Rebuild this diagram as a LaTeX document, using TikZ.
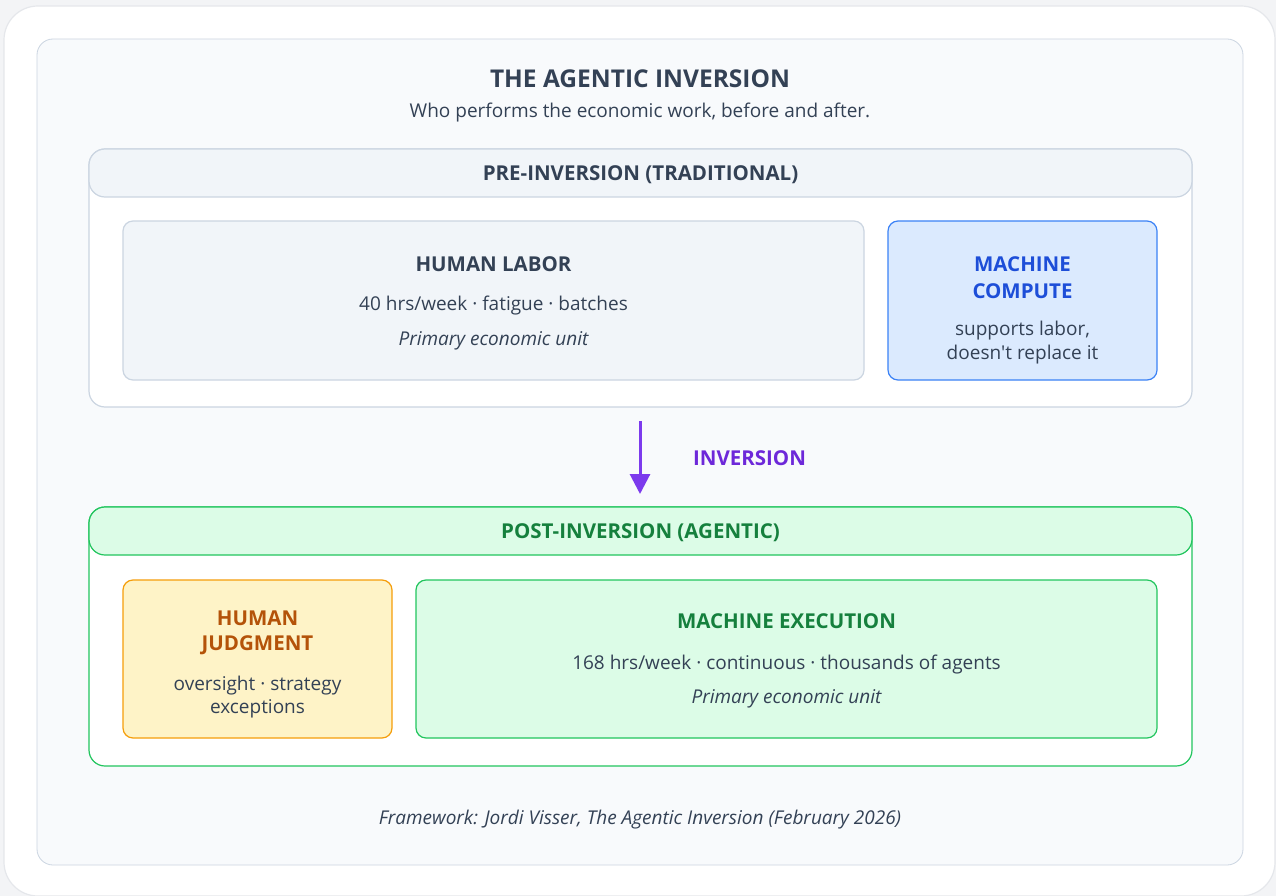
\documentclass[tikz,border=0pt]{standalone}
\usepackage{fontspec}
\setmainfont{Open Sans}
\definecolor{pagebg}{HTML}{F3F4F6}
\definecolor{cardline}{HTML}{E5E7EB}
\definecolor{panelbg}{HTML}{F8FAFC}
\definecolor{slateline}{HTML}{CBD5E1}
\definecolor{slatefill}{HTML}{F1F5F9}
\definecolor{ink}{HTML}{334155}
\definecolor{bluefill}{HTML}{DBEAFE}
\definecolor{blueline}{HTML}{3B82F6}
\definecolor{bluetext}{HTML}{1D4ED8}
\definecolor{greenfill}{HTML}{DCFCE7}
\definecolor{greenline}{HTML}{22C55E}
\definecolor{greentext}{HTML}{15803D}
\definecolor{amberfill}{HTML}{FEF3C7}
\definecolor{amberline}{HTML}{F59E0B}
\definecolor{ambertext}{HTML}{B45309}
\definecolor{violet}{HTML}{7C3AED}
\definecolor{violettext}{HTML}{6D28D9}
\usetikzlibrary{arrows.meta}
\tikzset{
  boxshape/.style={rectangle, rounded corners=#1, line width=1.2pt, inner sep=0pt},
  txt/.style={text=ink, font=\fontsize{19}{22}\selectfont, inner sep=0pt},
  ttl/.style={font=\bfseries\fontsize{20.5}{24}\selectfont, inner sep=0pt},
  itl/.style={text=ink, font=\itshape\fontsize{19}{22}\selectfont, inner sep=0pt},
  hdr/.style={font=\bfseries\fontsize{20.5}{24}\selectfont, inner sep=0pt},
}
\begin{document}
\begin{tikzpicture}[x=1pt,y=-1pt]
\useasboundingbox (0,0) rectangle (1276,896);
\fill[pagebg] (0,0) rectangle (1276,896);
% outer card
\node[boxshape=34pt, draw=cardline, fill=white, minimum width=1271pt, minimum height=890pt] (card) at (639.5,451) {};
% inner panel
\node[boxshape=16pt, draw=slateline, fill=panelbg, line width=0.8pt, minimum width=1206pt, minimum height=826pt] (panel) at (640,452) {};
\node[text=ink, font=\bfseries\fontsize{24.5}{28}\selectfont, inner sep=0pt] (title) at (640,79) {THE AGENTIC INVERSION};
\node[txt] (subtitle) at (640,113) {Who performs the economic work, before and after.};

% pre-inversion
\node[boxshape=16pt, draw=slateline, fill=white, minimum width=1103pt, minimum height=258pt] (pre) at (640.5,278) {};
\node[boxshape=16pt, draw=slateline, fill=slatefill, minimum width=1103pt, minimum height=48pt] (prehead) at (640.5,173) {};
\node[hdr, text=ink] (prelabel) at (640.5,175) {PRE-INVERSION (TRADITIONAL)};

\node[boxshape=10pt, draw=slateline, fill=slatefill, minimum width=741pt, minimum height=159pt] (labor) at (493.5,300.5) {};
\node[ttl, text=ink] (laborT) at (493.5,264) {HUMAN LABOR};
\node[txt] (laborB) at (493.5,306) {40 hrs/week · fatigue · batches};
\node[itl] (laborI) at (493.5,341) {Primary economic unit};

\node[boxshape=10pt, draw=blueline, fill=bluefill, minimum width=269pt, minimum height=159pt] (compute) at (1022.5,300.5) {};
\node[ttl, text=bluetext] (computeT1) at (1022.5,264) {MACHINE};
\node[ttl, text=bluetext] (computeT2) at (1022.5,291) {COMPUTE};
\node[txt] (computeB1) at (1022.5,331) {supports labor,};
\node[txt] (computeB2) at (1022.5,355) {doesn\textquotesingle t replace it};

% inversion arrow
\coordinate (arrS) at (640,421);
\coordinate (arrE) at (640,494);
\draw[violet, line width=3pt, -{Triangle[width=20pt,length=20pt]}] (arrS) -- (arrE);
\node[font=\bfseries\fontsize{20.5}{24}\selectfont, text=violettext, inner sep=0pt] (invlabel) at (749.5,458) {INVERSION};

% post-inversion
\node[boxshape=16pt, draw=greenline, fill=white, minimum width=1103pt, minimum height=259pt] (post) at (640.5,636.5) {};
\node[boxshape=16pt, draw=greenline, fill=greenfill, minimum width=1103pt, minimum height=48pt] (posthead) at (640.5,531) {};
\node[hdr, text=greentext] (postlabel) at (640.5,533) {POST-INVERSION (AGENTIC)};

\node[boxshape=10pt, draw=amberline, fill=amberfill, minimum width=269pt, minimum height=158pt] (judg) at (257.5,659) {};
\node[ttl, text=ambertext] (judgT1) at (257.5,618) {HUMAN};
\node[ttl, text=ambertext] (judgT2) at (257.5,645) {JUDGMENT};
\node[txt] (judgB1) at (257.5,686) {oversight · strategy};
\node[txt] (judgB2) at (257.5,709) {exceptions};

\node[boxshape=10pt, draw=greenline, fill=greenfill, minimum width=741pt, minimum height=158pt] (exec) at (786.5,659) {};
\node[ttl, text=greentext] (execT) at (786.5,621) {MACHINE EXECUTION};
\node[txt] (execB) at (786.5,665) {168 hrs/week · continuous · thousands of agents};
\node[itl] (execI) at (786.5,699) {Primary economic unit};

\node[itl] (footer) at (640,820) {Framework: Jordi Visser, The Agentic Inversion (February 2026)};
\end{tikzpicture}
\end{document}
